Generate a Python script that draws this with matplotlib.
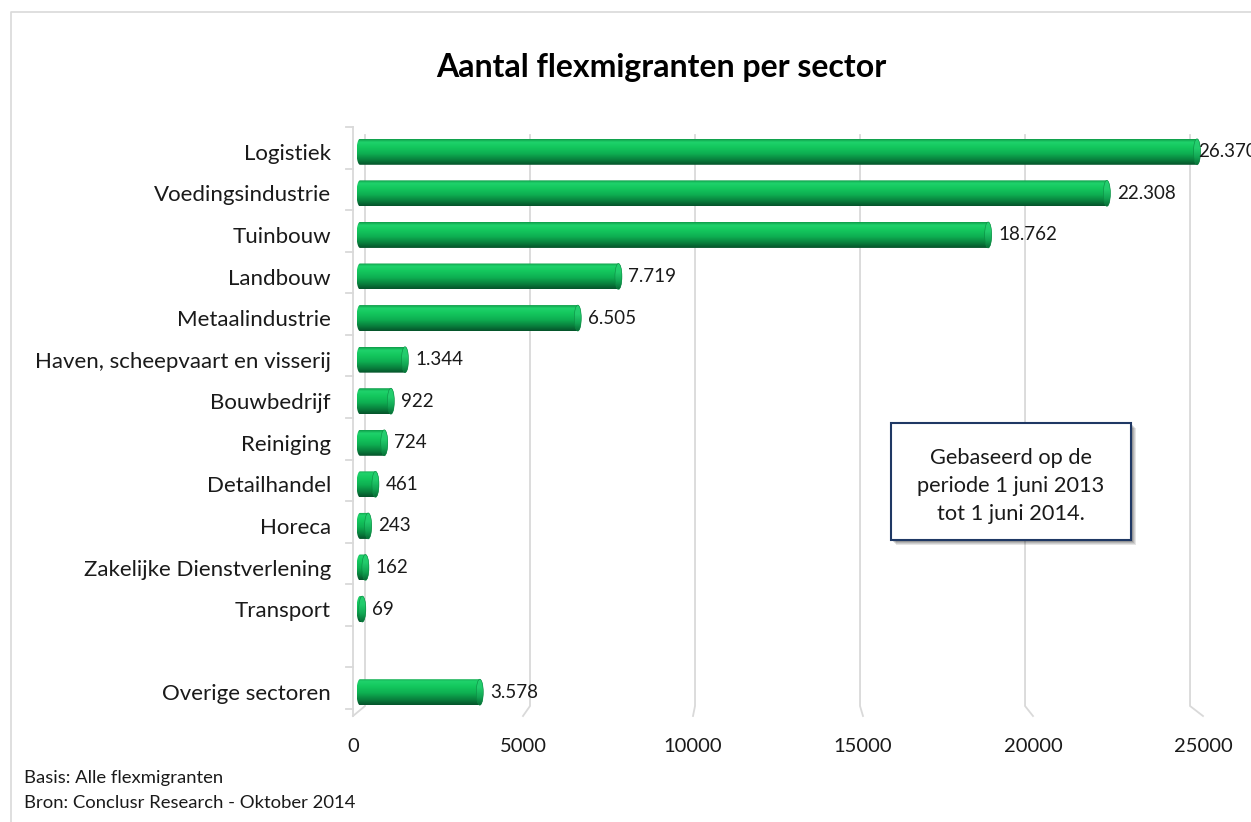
import numpy as np
import matplotlib
matplotlib.use("Agg")
import matplotlib.pyplot as plt
from matplotlib.patches import Rectangle, Ellipse, PathPatch
from matplotlib.path import Path
from matplotlib.colors import LinearSegmentedColormap

# ---------------- data ----------------
categories = ["Logistiek", "Voedingsindustrie", "Tuinbouw", "Landbouw", "Metaalindustrie",
              "Haven, scheepvaart en visserij", "Bouwbedrijf", "Reiniging", "Detailhandel",
              "Horeca", "Zakelijke Dienstverlening", "Transport", "", "Overige sectoren"]
values = [26370, 22308, 18762, 7719, 6505, 1344, 922, 724, 461, 243, 162, 69, None, 3578]
x_ticks = [0, 5000, 10000, 15000, 20000, 25000]
title = "Aantal flexmigranten per sector"
note_lines = ["Gebaseerd op de", "periode 1 juni 2013", "tot 1 juni 2014."]
footnotes = ["Basis: Alle flexmigranten", "Bron: Conclusr Research - Oktober 2014"]

# ---------------- style ----------------
W, H = 1251, 822
plt.rcParams['font.family'] = ['Lato', 'DejaVu Sans']
GRID = '#d9d9d9'
bar_cmap = LinearSegmentedColormap.from_list('cyl', [
    (0.00, '#0f9a48'), (0.12, '#1fd26b'), (0.30, '#14c85e'),
    (0.55, '#0eb052'), (0.80, '#09803d'), (1.00, '#05522a')])
cap_cmap = LinearSegmentedColormap.from_list('cap', [
    (0.00, '#26cf70'), (0.35, '#22cc6c'), (0.70, '#12a553'), (1.00, '#086a35')])

fig = plt.figure(figsize=(W / 100, H / 100), dpi=100)

def fx(px):
    return px / W

def fy(py):
    return 1 - py / H

# outer chart border
fig.add_artist(plt.Line2D([fx(11), fx(11), fx(W + 5)], [fy(H + 5), fy(12), fy(12)],
                          transform=fig.transFigure, color=GRID, lw=1.2))

AX_L, AX_R, AX_T, AX_B = 360, 1197, 131, 713
ax = fig.add_axes([fx(AX_L), fy(AX_B), (AX_R - AX_L) / W, (AX_B - AX_T) / H])
XMAX = x_ticks[-1]
n = len(categories)
ax.set_xlim(0, XMAX)
ax.set_ylim(n - 0.5, -0.5)
for s in ax.spines.values():
    s.set_visible(False)
ax.set_xticks([])
ax.set_yticks(range(n))
ax.set_yticklabels(categories, fontsize=16, color='#1a1a1a')
ax.tick_params(axis='y', length=0, pad=21)

px_per_x = (AX_R - AX_L) / XMAX          # pixels per data unit (x)
px_per_y = (AX_B - AX_T) / n             # pixels per category (y)

def dx(px):   # pixel distance -> data units x
    return px / px_per_x

def dy(py):   # pixel y -> data y
    return -0.5 + (py - AX_T) / px_per_y

# pseudo-3D walls: back-plane gridlines + floor diagonals
BACK_OFF, BACK_SCALE = dx(5), 0.9857
FRONT_OFF, FRONT_SCALE = -dx(7), 1.0155
y_top, y_back, y_front = dy(135), dy(706), dy(716)
for v in x_ticks:
    xb = BACK_OFF + v * BACK_SCALE
    xf = FRONT_OFF + v * FRONT_SCALE
    ax.plot([xb, xb, xf], [y_top, y_back, y_front], color=GRID, lw=1.3,
            clip_on=False, zorder=0.5, solid_joinstyle='miter')
    ax.text(xf, dy(746), f"{v}", transform=ax.transData, fontsize=14.5,
            ha='center', va='center', color='#1a1a1a', clip_on=False)

# category axis line + ticks at category boundaries
x_axis = -dx(7.5)
ax.plot([x_axis, x_axis], [dy(127), y_front], color=GRID, lw=1.3, clip_on=False, zorder=0.5)
for k in range(n + 1):
    yb = dy(127) + k * (dy(127 + px_per_y) - dy(127))
    ax.plot([x_axis - dx(7), x_axis], [yb, yb], color=GRID, lw=1.3, clip_on=False, zorder=0.5)

# cylinder bars
h = 26 / px_per_y
a = dx(3.5)
grad = np.linspace(0, 1, 256).reshape(-1, 1)
t = np.linspace(-np.pi / 2, np.pi / 2, 50)
for i, v in enumerate(values):
    if v is None:
        continue
    ve = min(v, XMAX)
    c = i
    xr = ve + a * np.cos(t)
    yr = c + (h / 2) * np.sin(t)
    xl = 0 - a * np.cos(t)
    yl = c - (h / 2) * np.sin(t)
    verts = np.vstack([np.column_stack([xr, yr]), np.column_stack([xl, yl]), [[xr[0], yr[0]]]])
    codes = [Path.MOVETO] + [Path.LINETO] * (len(verts) - 2) + [Path.CLOSEPOLY]
    body = PathPatch(Path(verts, codes), transform=ax.transData, facecolor='none', edgecolor='none')
    ax.add_patch(body)
    im = ax.imshow(grad, cmap=bar_cmap, aspect='auto', origin='upper',
                   extent=(-a, ve + a, c + h / 2, c - h / 2), zorder=2, interpolation='bilinear')
    im.set_clip_path(body)
    im.set_clip_box(fig.bbox)
    # end face
    cap = Ellipse((ve, c), 2 * a, h, transform=ax.transData, facecolor='none',
                  edgecolor='#0c8a42', lw=0.4, zorder=3, clip_on=False)
    ax.add_patch(cap)
    im2 = ax.imshow(grad, cmap=cap_cmap, aspect='auto', origin='upper',
                    extent=(ve - a, ve + a, c + h / 2, c - h / 2), zorder=2.5, interpolation='bilinear')
    im2.set_clip_path(cap)
    im2.set_clip_box(fig.bbox)
    # value label
    lab = f"{v:,}".replace(",", ".")
    off = 10 if v <= XMAX else 1
    ax.annotate(lab, (ve, c), xytext=(off, 0), textcoords='offset pixels',
                ha='left', va='center', fontsize=13.5, color='#1a1a1a', annotation_clip=False)

ax.set_xlim(0, XMAX)
ax.set_ylim(n - 0.5, -0.5)

# title
fig.text(fx(661), fy(68), title, ha='center', va='center', fontsize=23,
         fontweight='bold', color='#000000')

# note box with shadow
bx0, by0, bx1, by1 = 891, 423, 1131, 540
for k, al in enumerate([0.10, 0.10, 0.12, 0.15]):
    o = 5 - k
    fig.add_artist(Rectangle((fx(bx0 + o), fy(by1 + o)), (bx1 - bx0) / W, (by1 - by0) / H,
                             transform=fig.transFigure, facecolor='#000000', alpha=al,
                             edgecolor='none', zorder=5))
fig.add_artist(Rectangle((fx(bx0), fy(by1)), (bx1 - bx0) / W, (by1 - by0) / H,
                         transform=fig.transFigure, facecolor='white', edgecolor='#1f3864',
                         lw=1.5, zorder=6))
for j, line in enumerate(note_lines):
    fig.text(fx(1011), fy(458 + j * 28), line, ha='center', va='center', fontsize=15.7,
             color='#1a1a1a', zorder=7)

# footnotes
for j, line in enumerate(footnotes):
    fig.text(fx(24), fy(778 + j * 25), line, ha='left', va='center', fontsize=13.3,
             color='#1a1a1a')

fig.savefig("out.png", dpi=100)
